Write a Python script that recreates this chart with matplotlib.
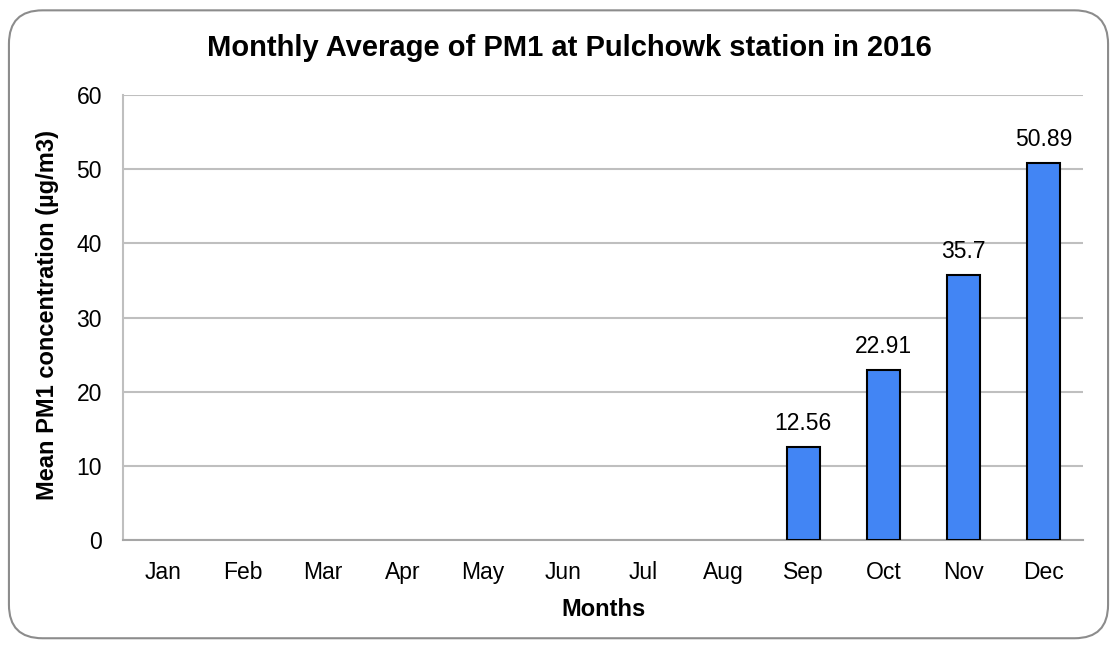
import matplotlib.pyplot as plt
from matplotlib.patches import FancyBboxPatch

plt.rcParams['font.family'] = ['Liberation Sans', 'DejaVu Sans']

months = ["Jan", "Feb", "Mar", "Apr", "May", "Jun", "Jul", "Aug", "Sep", "Oct", "Nov", "Dec"]
pm1 = [0, 0, 0, 0, 0, 0, 0, 0, 12.56, 22.91, 35.7, 50.89]
labels = ["", "", "", "", "", "", "", "", "12.56", "22.91", "35.7", "50.89"]
yticks = [0, 10, 20, 30, 40, 50, 60]

fig = plt.figure(figsize=(11.17, 6.46), dpi=100)

# rounded chart border
box = FancyBboxPatch((0.008, 0.012), 0.984, 0.972,
                     boxstyle="round,pad=0,rounding_size=0.03",
                     transform=fig.transFigure, facecolor="none",
                     edgecolor="#8c8c8c", linewidth=1.5, mutation_aspect=1117/646,
                     zorder=-1)
fig.patches.append(box)

ax = fig.add_axes([0.110, 0.164, 0.860, 0.689])
ax.set_facecolor("none")

x = list(range(len(months)))
edges = ["black" if v > 0 else "none" for v in pm1]
bars = ax.bar(x, pm1, width=0.41, color="#4285F4", edgecolor=edges, linewidth=1.5, zorder=3)
for xi, v, lab in zip(x, pm1, labels):
    if lab:
        ax.text(xi, v + 1.6, lab, ha="center", va="bottom", fontsize=16.5)

ax.set_xlim(-0.5, 11.5)
ax.set_ylim(0, 60)
ax.set_yticks(yticks)
ax.set_xticks(x)
ax.set_xticklabels(months, fontsize=16.5)
ax.tick_params(axis="y", labelsize=16.5, length=0, pad=15)
ax.tick_params(axis="x", length=0, pad=15)
ax.grid(axis="y", color="#bfbfbf", linewidth=1.5, zorder=0)
for s in ["top", "right"]:
    ax.spines[s].set_visible(False)
ax.spines["left"].set_color("#bfbfbf")
ax.spines["left"].set_linewidth(1.5)
ax.spines["bottom"].set_color("#a6a6a6")
ax.spines["bottom"].set_linewidth(1.5)

ax.set_xlabel("Months", fontsize=17, fontweight="bold", labelpad=10)
ax.set_ylabel("Mean PM1 concentration (µg/m3)", fontsize=17, fontweight="bold")
ax.yaxis.set_label_coords(-0.066, 0.505)
fig.text(0.51, 0.926, "Monthly Average of PM1 at Pulchowk station in 2016",
         ha="center", va="center", fontsize=21, fontweight="bold")

plt.savefig("out.png", dpi=100)
